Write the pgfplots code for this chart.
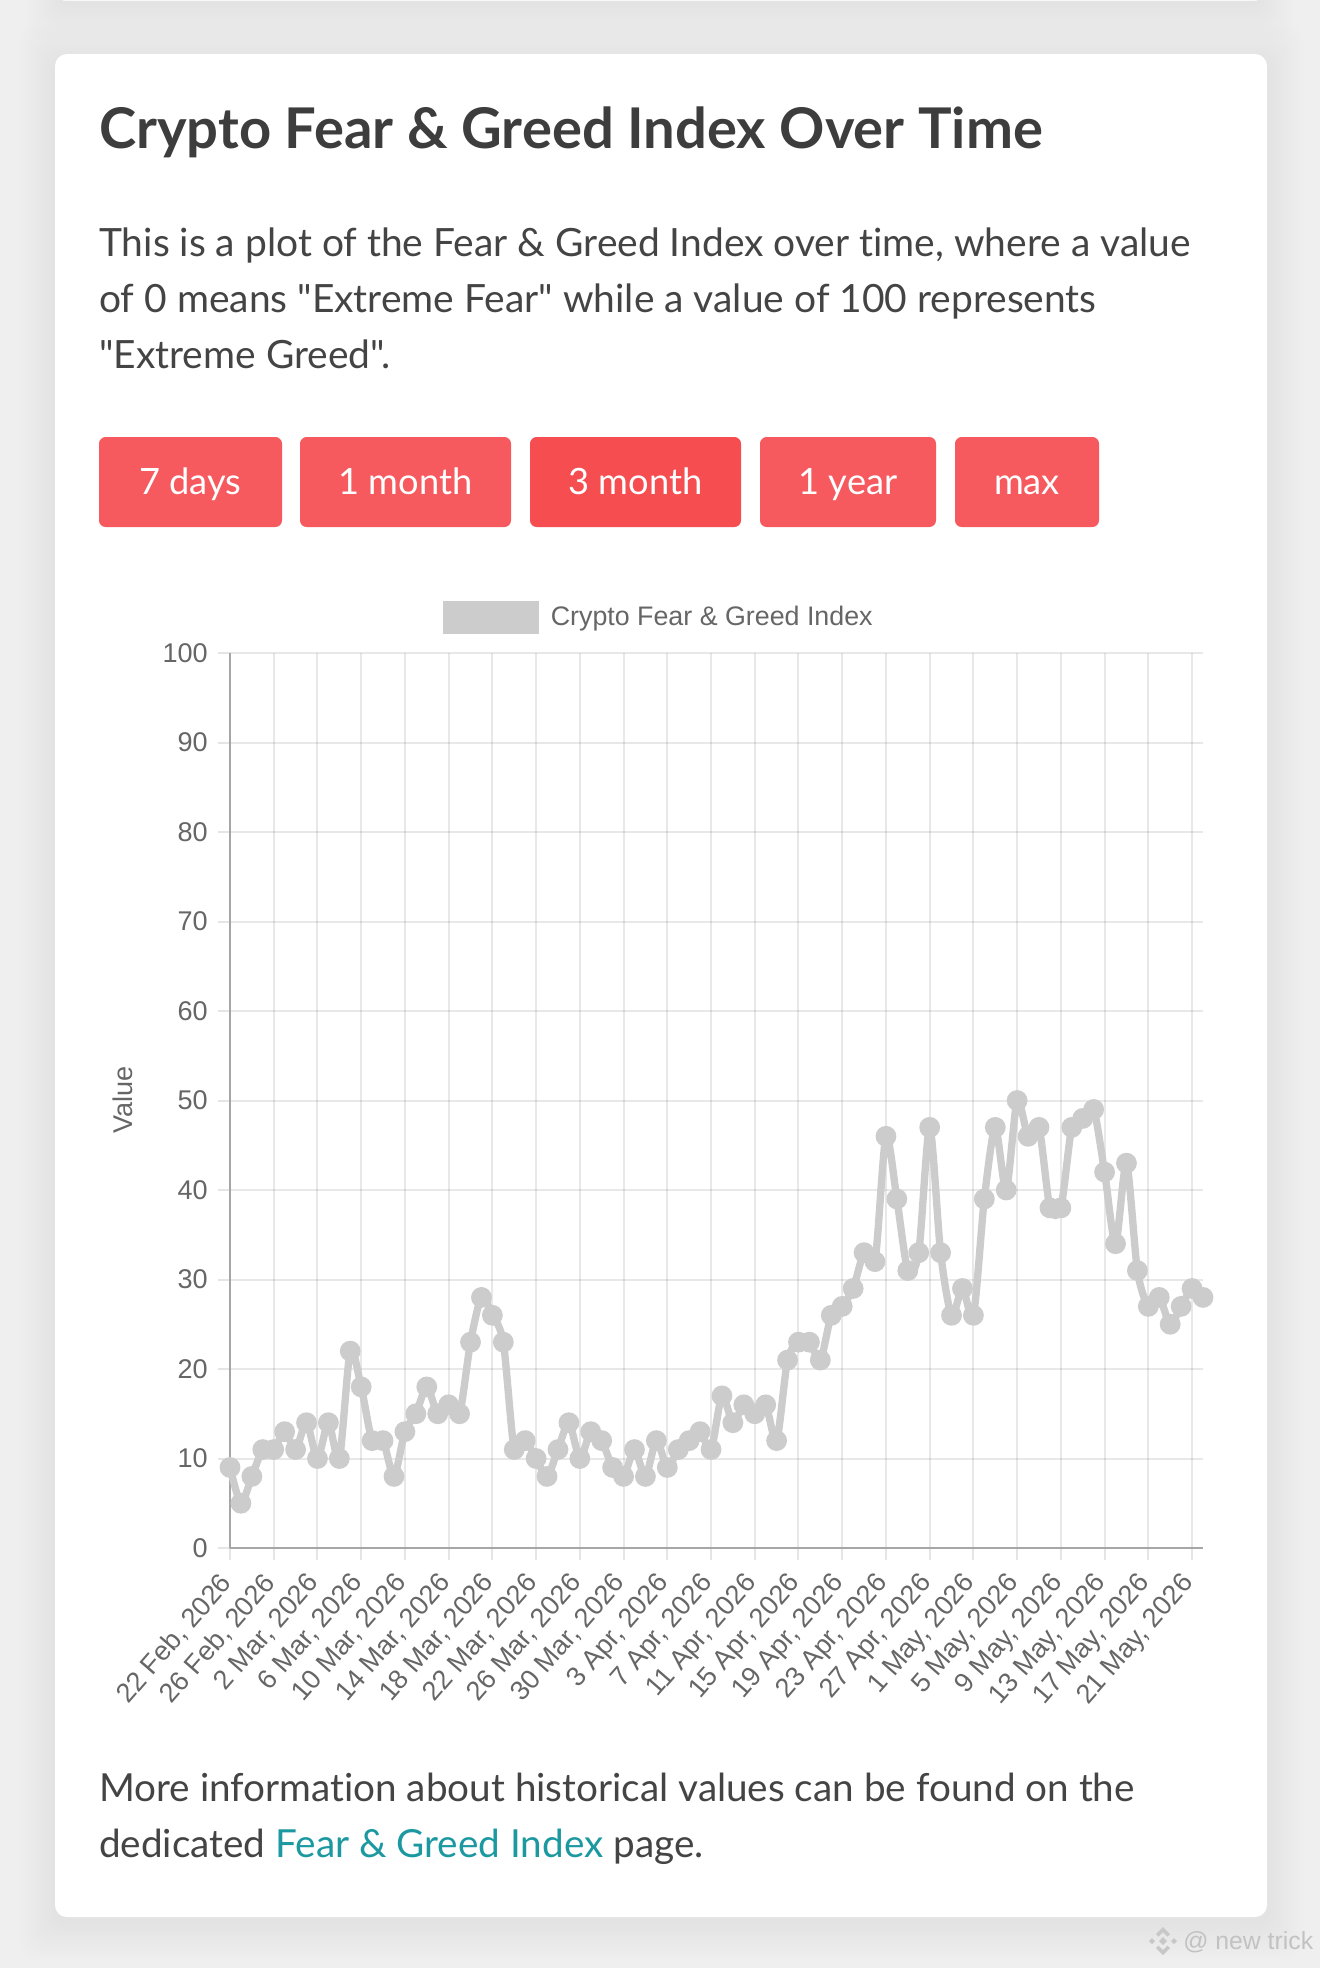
\documentclass[border=0pt]{standalone}
\usepackage{fontspec}
\newfontfamily\bodyfont[Ligatures=NoCommon]{Lato}
\newfontfamily\chartfont{Liberation Sans}
\usepackage{pgfplots}
\pgfplotsset{compat=1.18}
\definecolor{pagebg}{HTML}{EFEFEF}
\definecolor{ink}{HTML}{444444}
\definecolor{tickgray}{HTML}{666666}
\definecolor{series}{HTML}{CCCCCC}
\definecolor{btn}{HTML}{F65A5E}
\definecolor{btnact}{HTML}{F54D50}
\definecolor{linkteal}{HTML}{1B98A0}
\definecolor{axgray}{HTML}{A6A6A6}
\pgfplotstableread{
d v
0 9
1 5
2 8
3 11
4 11
5 13
6 11
7 14
8 10
9 14
10 10
11 22
12 18
13 12
14 12
15 8
16 13
17 15
18 18
19 15
20 16
21 15
22 23
23 28
24 26
25 23
26 11
27 12
28 10
29 8
30 11
31 14
32 10
33 13
34 12
35 9
36 8
37 11
38 8
39 12
40 9
41 11
42 12
43 13
44 11
45 17
46 14
47 16
48 15
49 16
50 12
51 21
52 23
53 23
54 21
55 26
56 27
57 29
58 33
59 32
60 46
61 39
62 31
63 33
64 47
65 33
66 26
67 29
68 26
69 39
70 47
71 40
72 50
73 46
74 47
75 38
76 38
77 47
78 48
79 49
80 42
81 34
82 43
83 31
84 27
85 28
86 25
87 27
88 29
89 28
}\fgdata
\begin{document}
\begin{tikzpicture}[x=0.75pt,y=-0.75pt]
\useasboundingbox (0,0) rectangle (1320,1968);
\fill[pagebg] (0,0) rectangle (1320,1968);
% soft shadows
\foreach \g in {3,6,...,36}{
  \fill[black,opacity=0.004,rounded corners=12] (63-\g,-20) rectangle (1257+\g,4+\g);
  \fill[black,opacity=0.002,rounded corners=12] (55-\g,54-\g+6) rectangle (1267+\g,1917+\g+6);
}
\fill[white!97!black] (63,-20) rectangle (1257,1);
\fill[white,rounded corners=9] (55,54) rectangle (1267,1917);
% heading and text
\node[anchor=base west,inner sep=0,text=ink!90!black,font=\bodyfont\fontsize{42.1}{42}\selectfont\bfseries] at (99,148) {Crypto Fear \& Greed Index Over Time};
\begin{scope}[every node/.style={anchor=base west,inner sep=0,text=ink,font=\bodyfont\fontsize{29.2}{29}\selectfont}]
\node at (99,256) {This is a plot of the Fear \& Greed Index over time, where a value};
\node at (99,312) {of 0 means "Extreme Fear" while a value of 100 represents};
\node at (99,368) {"Extreme Greed".};
\node[font=\bodyfont\fontsize{29}{29}\selectfont] at (99,1801) {More information about historical values can be found on the};
\node[font=\bodyfont\fontsize{29}{29}\selectfont] at (99,1857) {dedicated \textcolor{linkteal}{Fear \& Greed Index} page.};
\end{scope}
% buttons
\foreach \a/\b/\c/\t in {99/282/btn/7 days,300/511/btn/1 month,530/741/btnact/3 month,760/936/btn/1 year,955/1099/btn/max}{
  \fill[\c,rounded corners=5] (\a,437) rectangle (\b,527);
  \node[anchor=base,inner sep=0,text=white,font=\bodyfont\fontsize{27.2}{27}\selectfont] at ({(\a+\b)/2},494) {\t};
}
\begin{axis}[
  at={(172.5pt,-1161pt)},anchor=south west,
  scale only axis,width=729.75pt,height=671.25pt,
  xmin=0,xmax=89,ymin=0,ymax=100,
  clip=false,
  axis x line=bottom,axis y line=left,
  axis line style={-,draw=axgray,line width=1.5pt},
  xtick={0,4,...,88},
  xticklabels={{22 Feb, 2026},{26 Feb, 2026},{2 Mar, 2026},{6 Mar, 2026},{10 Mar, 2026},{14 Mar, 2026},{18 Mar, 2026},{22 Mar, 2026},{26 Mar, 2026},{30 Mar, 2026},{3 Apr, 2026},{7 Apr, 2026},{11 Apr, 2026},{15 Apr, 2026},{19 Apr, 2026},{23 Apr, 2026},{27 Apr, 2026},{1 May, 2026},{5 May, 2026},{9 May, 2026},{13 May, 2026},{17 May, 2026},{21 May, 2026}},
  ytick={0,10,...,100},
  grid=major,
  grid style={black,opacity=0.09,line width=1.5pt},
  tick align=outside,
  major tick length=9pt,
  tick style={black,opacity=0.1,line width=1.5pt},
  tick label style={font=\chartfont\fontsize{20.3}{20}\selectfont,text=tickgray},
  /pgf/number format/assume math mode=true,
  yticklabel style={inner sep=0pt,xshift=-7.5pt},
  xticklabel style={rotate=49,anchor=north east,inner sep=0pt,xshift=-12pt,yshift=1.5pt},
  legend style={at={(0.441,1.04)},anchor=center,draw=none,fill=none,
    font=\chartfont\fontsize{20.1}{20}\selectfont,text=tickgray},
  legend image code/.code={\fill[series,draw=none] (0pt,-12.5pt) rectangle (72pt,12.5pt);\path[draw=none] (0pt,0pt)--(79pt,0pt);},
]
\addplot[series,line width=5.5pt,smooth,tension=0.45,mark=*,mark size=5pt,mark options={fill=series,draw=none,solid}] table[x=d,y=v]{\fgdata};
\addlegendentry{Crypto Fear \& Greed Index}
\end{axis}
\node[rotate=90,anchor=center,inner sep=0,text=tickgray,font=\chartfont\fontsize{20.3}{20}\selectfont] at (123,1100) {Value};
% watermark
\node[anchor=base west,inner sep=0,text=black!24,font=\chartfont\fontsize{18.6}{19}\selectfont] at (1183,1949) {@ new trick};
\begin{scope}[shift={(1163,1941)},fill=black!22]
\fill (-4,0)--(0,-4)--(4,0)--(0,4)--cycle;
\fill (-14,0)--(-11,-3)--(-8,0)--(-11,3)--cycle;
\fill (14,0)--(11,-3)--(8,0)--(11,3)--cycle;
\fill (-7,-7)--(0,-14)--(7,-7)--(4.5,-4.5)--(0,-9)--(-4.5,-4.5)--cycle;
\fill (-7,7)--(0,14)--(7,7)--(4.5,4.5)--(0,9)--(-4.5,4.5)--cycle;
\end{scope}
\end{tikzpicture}
\end{document}
